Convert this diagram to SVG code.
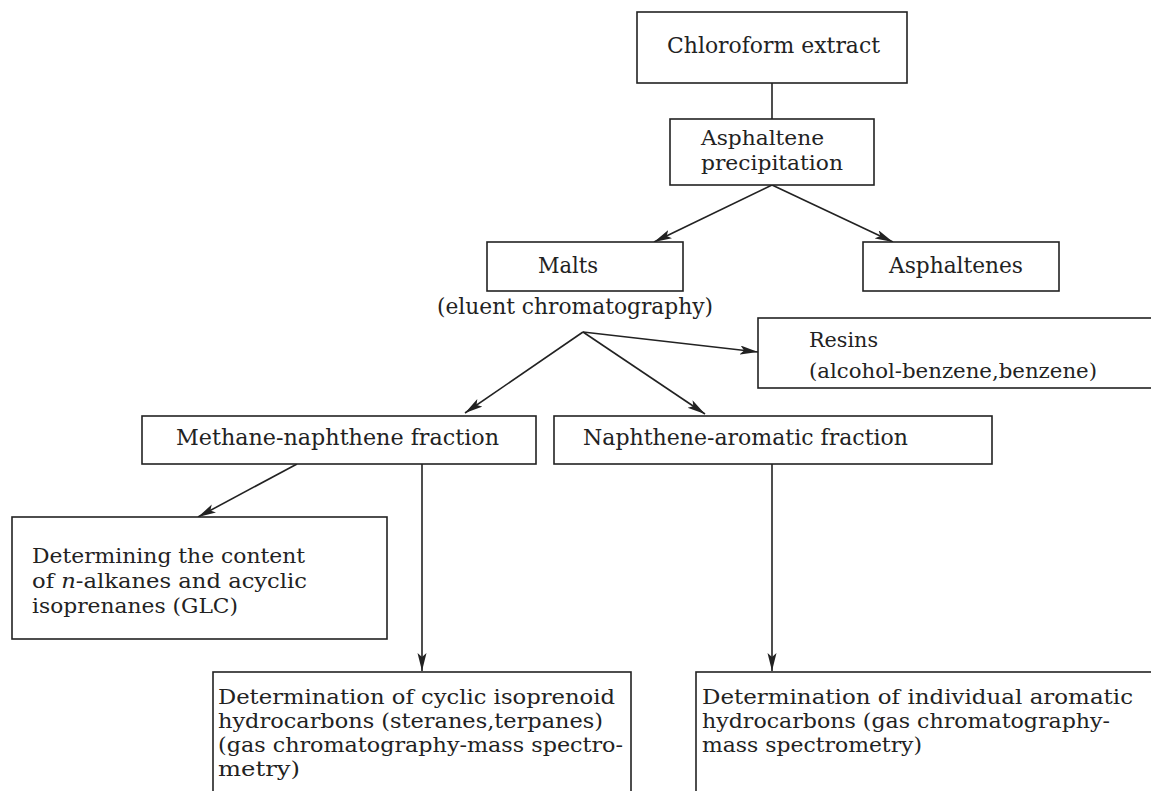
<svg xmlns="http://www.w3.org/2000/svg" width="1151" height="791" viewBox="0 0 1151 791">
<defs>
<marker id="ah" markerUnits="userSpaceOnUse" markerWidth="20" markerHeight="10" refX="18" refY="4.5" orient="auto" viewBox="0 0 20 10">
<path d="M0,0 L18,4.5 L0,9 L4,4.5 Z" fill="#222"/>
</marker>
<style>
rect{fill:#fff;stroke:#222;stroke-width:1.6}
text{font-family:'DejaVu Serif','Liberation Serif',serif;font-size:23px;fill:#222}
text.m{font-size:20px}
.c line{stroke:#222;stroke-width:1.6}
.a{marker-end:url(#ah)}
</style>
</defs>
<rect x="0" y="0" width="1151" height="791" style="fill:#fff;stroke:none"/>
<g class="c">
<line x1="772" y1="83" x2="772" y2="119"/>
<line class="a" x1="772" y1="185" x2="654" y2="242"/>
<line class="a" x1="772" y1="185" x2="893" y2="242"/>
<line class="a" x1="583" y1="332" x2="465" y2="413"/>
<line class="a" x1="583" y1="332" x2="705" y2="414"/>
<line class="a" x1="583" y1="332" x2="758" y2="352"/>
<line class="a" x1="297" y1="464" x2="198" y2="517"/>
<line class="a" x1="422" y1="464" x2="422" y2="671"/>
<line class="a" x1="772" y1="464" x2="772" y2="671"/>
</g>
<g font-family="DejaVu Serif, Liberation Serif, serif">
<g id="chloroform">
<rect x="637" y="12" width="270" height="71"/>
<text x="667" y="53" textLength="213" lengthAdjust="spacingAndGlyphs">Chloroform extract</text>
</g>
<g id="asphaltene-precipitation">
<rect x="670" y="119" width="204" height="66"/>
<text class="m" x="701" y="145" textLength="123" lengthAdjust="spacingAndGlyphs">Asphaltene</text>
<text class="m" x="701" y="170" textLength="142" lengthAdjust="spacingAndGlyphs">precipitation</text>
</g>
<g id="malts">
<rect x="487" y="242" width="196" height="49"/>
<text x="538" y="273" textLength="60" lengthAdjust="spacingAndGlyphs">Malts</text>
<text x="437" y="314" textLength="276" lengthAdjust="spacingAndGlyphs">(eluent chromatography)</text>
</g>
<g id="asphaltenes">
<rect x="863" y="242" width="196" height="49"/>
<text x="889" y="273" textLength="134" lengthAdjust="spacingAndGlyphs">Asphaltenes</text>
</g>
<g id="resins">
<rect x="758" y="318" width="400" height="70"/>
<text class="m" x="809" y="347" textLength="69" lengthAdjust="spacingAndGlyphs">Resins</text>
<text class="m" x="809" y="378" textLength="288" lengthAdjust="spacingAndGlyphs">(alcohol-benzene,benzene)</text>
</g>
<g id="methane-naphthene">
<rect x="142" y="416" width="394" height="48"/>
<text x="176" y="445" textLength="323" lengthAdjust="spacingAndGlyphs">Methane-naphthene fraction</text>
</g>
<g id="naphthene-aromatic">
<rect x="554" y="416" width="438" height="48"/>
<text x="583" y="445" textLength="325" lengthAdjust="spacingAndGlyphs">Naphthene-aromatic fraction</text>
</g>
<g id="n-alkanes">
<rect x="12" y="517" width="375" height="122"/>
<text class="m" x="32" y="563" textLength="273" lengthAdjust="spacingAndGlyphs">Determining the content</text>
<text class="m" x="32" y="588" textLength="275" lengthAdjust="spacingAndGlyphs">of  <tspan font-style="italic">n</tspan>-alkanes and acyclic</text>
<text class="m" x="32" y="613" textLength="206" lengthAdjust="spacingAndGlyphs">isoprenanes (GLC)</text>
</g>
<g id="cyclic-isoprenoid">
<rect x="213" y="672" width="418" height="130"/>
<text class="m" x="218" y="704" textLength="397" lengthAdjust="spacingAndGlyphs">Determination of cyclic isoprenoid</text>
<text class="m" x="218" y="728" textLength="385" lengthAdjust="spacingAndGlyphs">hydrocarbons (steranes,terpanes)</text>
<text class="m" x="218" y="752" textLength="405" lengthAdjust="spacingAndGlyphs">(gas chromatography-mass spectro-</text>
<text class="m" x="218" y="776" textLength="82" lengthAdjust="spacingAndGlyphs">metry)</text>
</g>
<g id="aromatic">
<rect x="696" y="672" width="470" height="130"/>
<text class="m" x="702" y="704" textLength="431" lengthAdjust="spacingAndGlyphs">Determination of individual aromatic</text>
<text class="m" x="702" y="728" textLength="408" lengthAdjust="spacingAndGlyphs">hydrocarbons (gas chromatography-</text>
<text class="m" x="702" y="752" textLength="220" lengthAdjust="spacingAndGlyphs">mass spectrometry)</text>
</g>
</g>
</svg>
